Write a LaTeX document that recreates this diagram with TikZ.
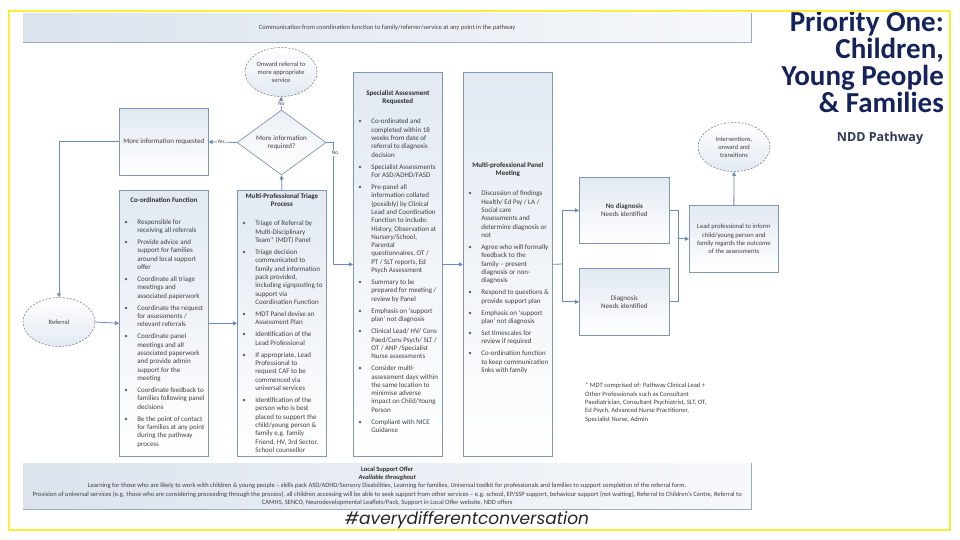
\documentclass[tikz,border=0pt]{standalone}
\usepackage{fontspec}
\setmainfont{Carlito}
\newfontfamily\osans{Open Sans}
\newfontfamily\popp{Poppins}
\usetikzlibrary{shapes.geometric,arrows.meta,calc}

\definecolor{bordc}{HTML}{8197B1}
\definecolor{arrc}{HTML}{6B8CB2}
\definecolor{txtc}{HTML}{404040}
\definecolor{ttlc}{HTML}{2E2E2E}
\definecolor{navy}{HTML}{15235A}
\definecolor{nddc}{HTML}{2F3A55}
\definecolor{yel}{HTML}{F7EF3C}
\definecolor{boxtop}{HTML}{E2E9F2}
\definecolor{bandl}{HTML}{DCE3ED}
\definecolor{bandr}{HTML}{F6F8FB}

\newcommand{\boxfont}{\fontsize{7}{8.3}\selectfont\parskip=0pt\parindent=0pt}
\newcommand{\bi}[1]{\par\noindent\hangindent=18pt\hangafter=1\makebox[18pt][l]{\hspace{5pt}{\color{txtc!80}\textbullet}}{\let\\\newline#1}\par\vspace{3.8pt}}
\newcommand{\boxtext}[5]{\parbox[c][#1][t]{89pt}{\boxfont\vspace*{#2}{\centering\bfseries\color{ttlc}#3\par}\vspace{#4}\raggedright\rightskip=-6pt plus 1fil #5}}

\begin{document}
\begin{tikzpicture}[x=1pt,y=-1pt,
  every node/.style={text=txtc, inner sep=0pt},
  panel/.style={draw=bordc, line width=0.7pt, top color=boxtop, bottom color=white, minimum width=89pt, anchor=north west},
  smallbox/.style={panel, align=center, font=\fontsize{7}{8.3}\selectfont},
  dashell/.style={ellipse, draw=black!55, dash pattern=on 2pt off 1.5pt, line width=0.5pt, top color=white, bottom color=boxtop, minimum width=72pt, minimum height=49pt, align=center, font=\fontsize{6.5}{7.8}\selectfont},
  conn/.style={draw=arrc, line width=0.8pt},
  arr/.style={conn, -{Triangle[length=4pt,width=4pt]}},
  lbl/.style={font=\fontsize{5.5}{6}\selectfont, text=txtc, fill=white, inner sep=0.8pt}
]
\useasboundingbox (0,0) rectangle (960,540);
\fill[white] (0,0) rectangle (960,540);

% top banner
\node[anchor=north west, minimum width=728pt, minimum height=29pt, left color=bandl, right color=bandr, font=\fontsize{6.5}{7.5}\selectfont] (topband) at (23,13) {Communication from coordination function to family/referrer/service at any point in the pathway};
\draw[bordc!80, line width=0.7pt] (topband.south west) -- (topband.south east) -- (topband.north east);

% bottom band
\node[anchor=north west, minimum width=728pt, minimum height=46pt, left color=bandl, right color=bandr, align=center, font=\fontsize{6.5}{8.2}\selectfont] (botband) at (23,463) {{\bfseries\color{ttlc}Local Support Offer}\\{\bfseries\itshape\color{ttlc}Available throughout}\\Learning for those who are likely to work with children \& young people -- skills pack ASD/ADHD/Sensory Disabilities, Learning for families, Universal toolkit for professionals and families to support completion of the referral form.\\Provision of universal services (e.g. those who are considering proceeding through the process), all children accessing will be able to seek support from other services -- e.g. school, EP/SSP support, behaviour support (not waiting), Referral to Children's Centre, Referral to\\CAMHS, SENCO, Neurodevelopmental Leaflets/Pack, Support in Local Offer website, NDD offers};
\draw[bordc!80, line width=0.7pt] (botband.south west) -- (botband.south east) -- (botband.north east);

% ellipses and diamond
\node[dashell] (onward) at (281,72) {Onward referral to\\more appropriate\\service};
\node[diamond, draw=bordc, line width=0.7pt, top color=boxtop!70, bottom color=white, minimum width=89pt, minimum height=65pt, aspect=1.37, align=center, font=\fontsize{7}{8.3}\selectfont] (dia) at (281.5,142.5) {More information\\required?};
\node[smallbox, minimum height=67pt] (moreinfo) at (119,108) {More information requested};
\node[dashell] (referral) at (59,322) {Referral};

% Coordination function
\node[panel, minimum height=266pt] (coord) at (119,190) {\boxtext{266pt}{7pt}{Co-ordination Function}{13.5pt}{%
\bi{Responsible for\\receiving all referrals}
\bi{Provide advice and\\support for families\\around local support\\offer}
\bi{Coordinate all triage\\meetings and\\associated paperwork}
\bi{Coordinate the request\\for assessments /\\relevant referrals}
\bi{Coordinate panel\\meetings and all\\associated paperwork\\and provide admin\\support for the\\meeting}
\bi{Coordinate feedback to\\families following panel\\decisions}
\bi{Be the point of contact\\for families at any point\\during the pathway\\process}}};

% Triage
\node[panel, minimum height=266pt] (triage) at (237,190) {\boxtext{266pt}{3pt}{Multi-Professional Triage\\Process}{11pt}{%
\bi{Triage of Referral by\\Multi-Disciplinary\\Team* (MDT) Panel}
\bi{Triage decision\\communicated to\\family and information\\pack provided,\\including signposting to\\support via\\Coordination Function}
\bi{MDT Panel devise an\\Assessment Plan}
\bi{Identification of the\\Lead Professional}
\bi{If appropriate, Lead\\Professional to\\request CAF to be\\commenced via\\universal services}
\bi{Identification of the\\person who is best\\placed to support the\\child/young person \&\\family e.g. family\\Friend, HV, 3rd Sector,\\School counsellor}}};

% Specialist assessment
\node[panel, minimum height=384pt] (spec) at (353,72) {\boxtext{384pt}{18pt}{Specialist Assessment\\Requested}{12pt}{%
\bi{Co-ordinated and\\completed within 18\\weeks from date of\\referral to diagnosis\\decision}
\bi{Specialist Assessments\\For ASD/ADHD/FASD}
\bi{Pre-panel all\\information collated\\(possibly) by Clinical\\Lead and Coordination\\Function to include:\\History, Observation at\\Nursery/School,\\Parental\\questionnaires, OT /\\PT / SLT reports, Ed\\Psych Assessment}
\bi{Summary to be\\prepared for meeting /\\review by Panel}
\bi{Emphasis on `support\\plan' not diagnosis}
\bi{Clinical Lead/ HV/ Cons\\Paed/Cons Psych/ SLT /\\OT / ANP /Specialist\\Nurse assessments}
\bi{Consider multi-\\assessment days within\\the same location to\\minimise adverse\\impact on Child/Young\\Person}
\bi{Compliant with NICE\\Guidance}}};

% Panel meeting
\node[panel, minimum height=384pt] (panelm) at (463,72) {\boxtext{384pt}{90pt}{Multi-professional Panel\\Meeting}{12pt}{%
\bi{Discussion of findings\\Health/ Ed Psy / LA /\\Social care\\Assessments and\\determine diagnosis or\\not}
\bi{Agree who will formally\\feedback to the\\family -- present\\diagnosis or non-\\diagnosis}
\bi{Respond to questions \&\\provide support plan}
\bi{Emphasis on `support\\plan' not diagnosis}
\bi{Set timescales for\\review if required}
\bi{Co-ordination function\\to keep communication\\links with family}}};

% outcome boxes
\node[smallbox, minimum width=90pt, minimum height=66pt] (nodiag) at (579,177) {{\bfseries No diagnosis}\\Needs identified};
\node[smallbox, minimum width=90pt, minimum height=67pt] (diag) at (579,268) {Diagnosis\\Needs identified};
\node[smallbox, minimum height=67pt, font=\fontsize{6.6}{8.2}\selectfont] (lead) at (689,205) {Lead professional to inform\\child/young person and\\family regards the outcome\\of the assessments};
\node[dashell] (interv) at (734,147) {Interventions,\\onward and\\transitions};

% footnote
\node[anchor=north west, align=left, font=\fontsize{6.6}{8.3}\selectfont] (foot) at (585,383) {* MDT comprised of: Pathway Clinical Lead +\\Other Professionals such as Consultant\\Paediatrician, Consultant Psychiatrist, SLT, OT,\\Ed Psych, Advanced Nurse Practitioner,\\Specialist Nurse, Admin};

% connectors
\draw[arr] (triage.north) -- (dia.south);
\draw[arr] (dia.north) -- node[lbl, pos=0.45] (lno1) {No} (onward.south);
\draw[arr] (dia.west) -- node[lbl, pos=0.55] (lyes) {Yes} (moreinfo.east);
\draw[arr] (moreinfo.west) -| (referral.north);
\draw[arr] (referral.east) -- (coord.west);
\draw[arr] (coord.east) -- (triage.west);
\coordinate (nojog) at (333,142.5);
\draw[arr] (dia.east) -- (nojog) |- (spec.west);
\node[lbl] (lno2) at (335,153) {No};
\draw[arr] (spec.east) -- (panelm.west);
\coordinate (j1) at (562,264);
\draw[conn] (panelm.east) -- (j1);
\draw[arr] (j1) |- (nodiag.west);
\draw[arr] (j1) |- (diag.west);
\coordinate (j2) at (678,238.5);
\draw[conn] (nodiag.east) -| (j2);
\draw[conn] (diag.east) -| (j2);
\draw[arr] (j2) -- (lead.west);
\draw[arr] (lead.north) -- (interv.south);

% titles
\begin{scope}[every node/.style={text=navy, inner sep=0pt, anchor=base east, font=\bfseries\fontsize{29}{29}\selectfont}]
\node (t1) at (944,32) {Priority One:};
\node (t2) at (944,59) {Children,};
\node (t3) at (944,86) {Young People};
\node (t4) at (944,113) {\& Families};
\end{scope}
\node[font=\osans\bfseries\fontsize{12.5}{14}\selectfont, text=nddc] (ndd) at (880,138) {NDD Pathway};
\node[font=\popp\itshape\fontsize{17}{20}\selectfont, text=black!85] (hash) at (467,520) {\#averydifferentconversation};

% yellow frame
\draw[yel, line width=2.5pt] (9,11) rectangle (950,530);
\end{tikzpicture}
\end{document}
